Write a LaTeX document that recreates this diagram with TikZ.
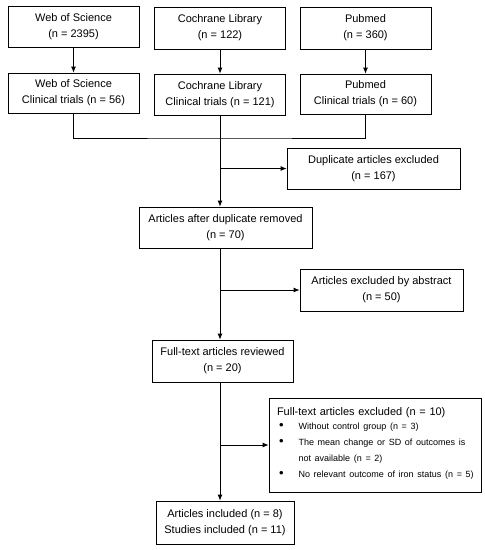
\documentclass[tikz,border=0pt]{standalone}
\usepackage{fontspec}
\setmainfont{Liberation Sans}
\usetikzlibrary{arrows.meta}

\newcommand{\bigbullet}{{\fontsize{13}{16}\selectfont\textbullet}}

\begin{document}
\begin{tikzpicture}[x=1pt,y=-1pt,line width=0.8pt,>={Latex[length=6pt,width=5pt]},
  box/.style={draw,rectangle,align=center,inner sep=0pt,
    font=\fontsize{11}{16}\selectfont}]
\useasboundingbox (0,0) rectangle (485,550);
% ================= databases =================
\node[box,minimum width=131pt,minimum height=41pt] (wos1) at (73.5,26.5) {Web of Science\\(n = 2395)};
\node[box,minimum width=131pt,minimum height=42pt] (coch1) at (220,28) {Cochrane Library\\(n = 122)};
\node[box,minimum width=131pt,minimum height=42pt] (pub1) at (365.5,28) {Pubmed\\(n = 360)};
\node[box,minimum width=131pt,minimum height=40pt] (wos2) at (73.5,93) {Web of Science\\Clinical trials (n = 56)};
\node[box,minimum width=131pt,minimum height=41pt] (coch2) at (220,94.5) {Cochrane Library\\Clinical trials (n = 121)};
\node[box,minimum width=131pt,minimum height=40pt] (pub2) at (365.5,94) {Pubmed\\Clinical trials (n = 60)};
\draw[->] (wos1) -- (wos2);
\draw[->] (coch1) -- (coch2);
\draw[->] (pub1) -- (pub2);
% merge of the three searches
\coordinate (merge) at (220,138);
\draw (wos2.south) |- (merge) -| (pub2.south);
% ================= screening =================
\node[box,minimum width=173pt,minimum height=41pt] (dup) at (373.5,168.5) {Duplicate articles excluded\\(n = 167)};
\node[box,minimum width=173pt,minimum height=41pt] (after) at (225.5,227.5) {Articles after duplicate removed\\(n = 70)};
\node[box,minimum width=163pt,minimum height=42pt] (abs) at (381.5,290) {Articles excluded by abstract\\(n = 50)};
\node[box,minimum width=141pt,minimum height=42pt] (full) at (222.5,361) {Full-text articles reviewed\\(n = 20)};
\node[box,minimum width=212pt,minimum height=94pt,inner xsep=8pt,text width=196pt,align=left] (excl) at (375,445) {%
  Full-text articles excluded (n = 10)\\
  {\fontsize{9}{16}\selectfont
  \begin{tabular}{@{\hspace{2pt}}l@{\hspace{15pt}}l@{}}
  \bigbullet & Without control group (n = 3)\\
  \bigbullet & The mean change or SD of outcomes is\\
             & not available (n = 2)\\
  \bigbullet & No relevant outcome of iron status (n = 5)
  \end{tabular}}};
\node[box,minimum width=138pt,minimum height=43pt] (incl) at (225,522.5) {Articles included (n = 8)\\Studies included (n = 11)};
% trunk and side arrows
\draw[->] (coch2.south) -- (coch2.south |- after.north);
\draw[->] (coch2.south |- dup.west) -- (dup.west);
\draw[->] (coch2.south |- after.south) -- (coch2.south |- full.north);
\draw[->] (coch2.south |- abs.west) -- (abs.west);
\draw[->] (coch2.south |- full.south) -- (coch2.south |- incl.north);
\draw[->] (coch2.south |- excl.west) -- (excl.west);
\end{tikzpicture}
\end{document}
